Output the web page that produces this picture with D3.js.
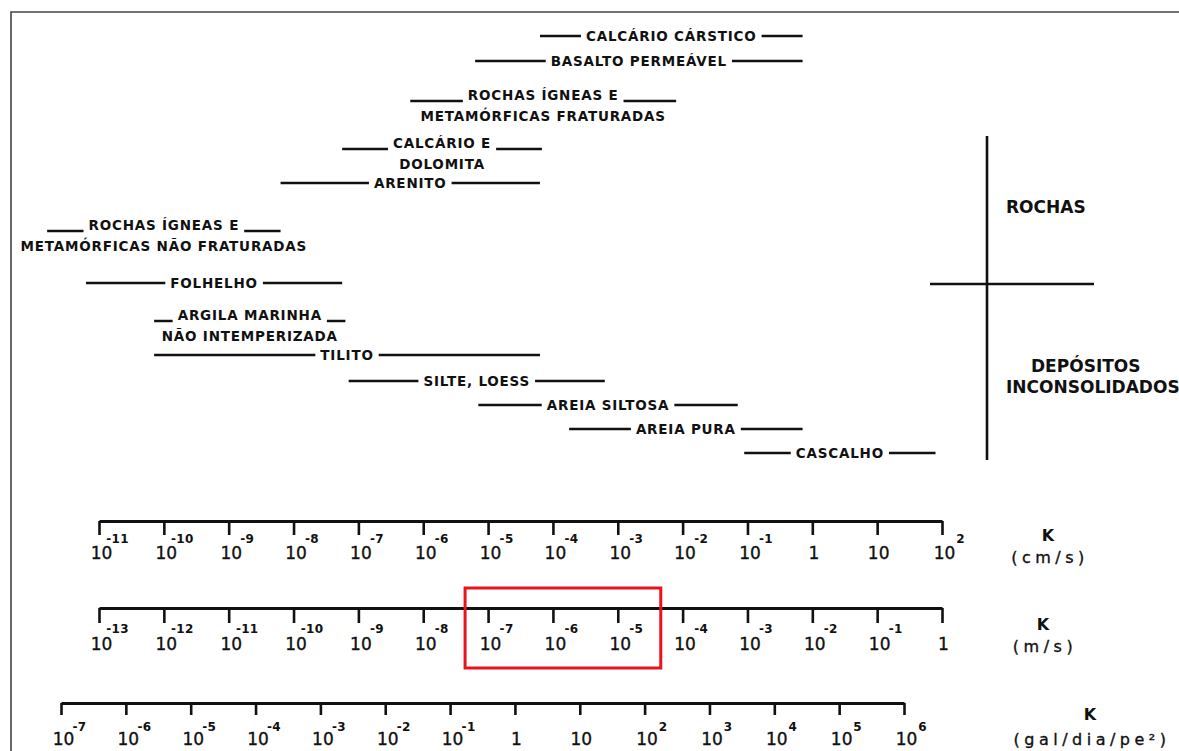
<!DOCTYPE html>
<html>
<head>
<meta charset="utf-8">
<script src="https://cdn.jsdelivr.net/npm/d3@7"></script>
<style>
  body { margin: 0; background: #fff; }
  svg { display: block; }
  .lbl { font-family: "DejaVu Sans", sans-serif; font-weight: bold; font-size: 13.5px; letter-spacing: 0.8px; fill: #111; }
  .tick10 { font-family: "DejaVu Sans", sans-serif; font-size: 17px; fill: #111; stroke: #111; stroke-width: 0.35px; }
  .sup { font-family: "DejaVu Sans", sans-serif; font-weight: bold; font-size: 12px; fill: #111; letter-spacing: 0.3px; }
  .unitK { font-family: "DejaVu Sans", sans-serif; font-weight: bold; font-size: 16px; fill: #111; }
  .unit { font-family: "DejaVu Sans", sans-serif; font-size: 16px; letter-spacing: 4.5px; fill: #111; stroke: #111; stroke-width: 0.35px; }
  .grupo { font-family: "DejaVu Sans", sans-serif; font-weight: bold; font-size: 17px; fill: #111; }
</style>
</head>
<body>
<div id="wrapper"></div>
<script>
// materiais e faixa de condutividade hidráulica K (expoentes de 10, em cm/s)
const materials = [
    ["CALCÁRIO CÁRSTICO"],
    ["BASALTO PERMEÁVEL"],
    ["ROCHAS ÍGNEAS E", "METAMÓRFICAS FRATURADAS"],
    ["CALCÁRIO E", "DOLOMITA"],
    ["ARENITO"],
    ["ROCHAS ÍGNEAS E", "METAMÓRFICAS NÃO FRATURADAS"],
    ["FOLHELHO"],
    ["ARGILA MARINHA", "NÃO INTEMPERIZADA"],
    ["TILITO"],
    ["SILTE, LOESS"],
    ["AREIA SILTOSA"],
    ["AREIA PURA"],
    ["CASCALHO"]
];
const logKMin = [-4.2, -5.2, -6.2, -7.25, -8.2, -11.8, -11.2, -10.15, -10.15, -7.15, -5.15, -3.75, -1.05];
const logKMax = [-0.15, -0.15, -2.1, -4.17, -4.2, -8.2, -7.25, -7.2, -4.2, -3.2, -1.15, -0.15, 1.9];

// expoentes das escalas
const cmExp = [-11, -10, -9, -8, -7, -6, -5, -4, -3, -2, -1, 0, 1, 2];
const mExp = [-13, -12, -11, -10, -9, -8, -7, -6, -5, -4, -3, -2, -1, 0];
const galExp = [-7, -6, -5, -4, -3, -2, -1, 0, 1, 2, 3, 4, 5, 6];
const highlightM = [-7, -5]; // faixa destacada em m/s

// layout
const width = 1179, height = 751;
const rowY = [36, 61, 101, 149, 183, 231, 283, 321, 355, 381, 405, 429, 453];
const ink = "#111";

const svg = d3.select("#wrapper").append("svg")
    .attr("width", width)
    .attr("height", height);

// moldura
svg.append("path")
    .attr("d", `M11,${height} V12 H${width}`)
    .attr("fill", "none")
    .attr("stroke", "#444")
    .attr("stroke-width", 1.6);

const xCm = d3.scaleLog().domain([1e-11, 1e2]).range([99, 942]);
const xM = d3.scaleLog().domain([1e-13, 1]).range([99, 942]);
const xGal = d3.scaleLog().domain([1e-7, 1e6]).range([61, 904]);
const yRow = d3.scaleOrdinal()
    .domain(materials.map(d => d.join(" ")))
    .range(rowY);

// faixas dos materiais
const pad = 5;
materials.forEach((lines, i) => {
    const y = yRow(lines.join(" "));
    const x0 = xCm(Math.pow(10, logKMin[i]));
    const x1 = xCm(Math.pow(10, logKMax[i]));
    const cx = (x0 + x1) / 2;
    const g = svg.append("g");

    let w;
    if (lines.length === 1) {
        const t = g.append("text").attr("class", "lbl")
            .attr("x", cx).attr("y", y + 5)
            .attr("text-anchor", "middle")
            .text(lines[0]);
        w = t.node().getComputedTextLength();
    } else {
        const t1 = g.append("text").attr("class", "lbl")
            .attr("x", cx).attr("y", y - 1)
            .attr("text-anchor", "middle")
            .text(lines[0]);
        g.append("text").attr("class", "lbl")
            .attr("x", cx).attr("y", y + 20)
            .attr("text-anchor", "middle")
            .text(lines[1]);
        w = t1.node().getComputedTextLength();
    }
    const segs = [[x0, cx - w / 2 - pad], [cx + w / 2 + pad, x1]];
    g.selectAll("line").data(segs.filter(s => s[1] > s[0])).join("line")
        .attr("x1", d => d[0]).attr("x2", d => d[1])
        .attr("y1", y).attr("y2", y)
        .attr("stroke", ink)
        .attr("stroke-width", 2.5);
});

// divisão rochas / depósitos
svg.append("line").attr("x1", 987).attr("x2", 987).attr("y1", 136).attr("y2", 460)
    .attr("stroke", ink).attr("stroke-width", 2.6);
svg.append("line").attr("x1", 930).attr("x2", 1094).attr("y1", 284).attr("y2", 284)
    .attr("stroke", ink).attr("stroke-width", 2.6);
svg.append("text").attr("class", "grupo").attr("x", 1006).attr("y", 213).text("ROCHAS");
svg.append("text").attr("class", "grupo").attr("x", 1031).attr("y", 372).text("DEPÓSITOS");
svg.append("text").attr("class", "grupo").attr("x", 1006).attr("y", 393)
    .attr("font-size", "16.3px").text("INCONSOLIDADOS");

// eixos
function drawAxis(scale, exps, y, tickLen, baseDy, supDy) {
    const axis = d3.axisBottom(scale)
        .tickValues(exps.map(e => Math.pow(10, e)))
        .tickSize(tickLen)
        .tickSizeOuter(0)
        .tickFormat("");
    const g = svg.append("g")
        .attr("transform", `translate(0,${y})`)
        .call(axis);
    g.select(".domain").attr("stroke", ink).attr("stroke-width", 3);
    g.selectAll(".tick line").attr("stroke", ink).attr("stroke-width", 2.6);
    g.selectAll(".tick text").remove();
    g.selectAll(".tick").each(function (d) {
        const e = Math.round(Math.log10(d));
        const t = d3.select(this);
        if (e === 0 || e === 1) {
            t.append("text").attr("class", "tick10")
                .attr("x", 1).attr("y", baseDy)
                .attr("text-anchor", "middle")
                .text(e === 0 ? "1" : "10");
        } else {
            t.append("text").attr("class", "tick10")
                .attr("x", 2).attr("y", baseDy)
                .attr("text-anchor", "middle")
                .text("10");
            t.append("text").attr("class", "sup")
                .attr("x", 18).attr("y", supDy)
                .text(e < 0 ? "-" + (-e) : String(e));
        }
    });
}
drawAxis(xCm, cmExp, 521, 14, 38, 22);
drawAxis(xM, mExp, 608, 15, 42, 25);
drawAxis(xGal, galExp, 703, 12, 42, 28);

// unidades
function unitLabel(cx, yK, yU, txt) {
    svg.append("text").attr("class", "unitK").attr("x", cx).attr("y", yK)
        .attr("text-anchor", "middle").text("K");
    svg.append("text").attr("class", "unit").attr("x", cx + 2).attr("y", yU)
        .attr("text-anchor", "middle").text(txt);
}
unitLabel(1048, 541, 563, "(cm/s)");
unitLabel(1043, 630, 652, "(m/s)");
unitLabel(1090, 720, 745, "(gal/dia/pe²)");

// destaque em vermelho
svg.append("rect")
    .attr("x", xM(Math.pow(10, highlightM[0])) - 23)
    .attr("y", 588)
    .attr("width", xM(Math.pow(10, highlightM[1])) + 43 - (xM(Math.pow(10, highlightM[0])) - 23))
    .attr("height", 80)
    .attr("fill", "none")
    .attr("stroke", "#e8141c")
    .attr("stroke-width", 3);
</script>
</body>
</html>
